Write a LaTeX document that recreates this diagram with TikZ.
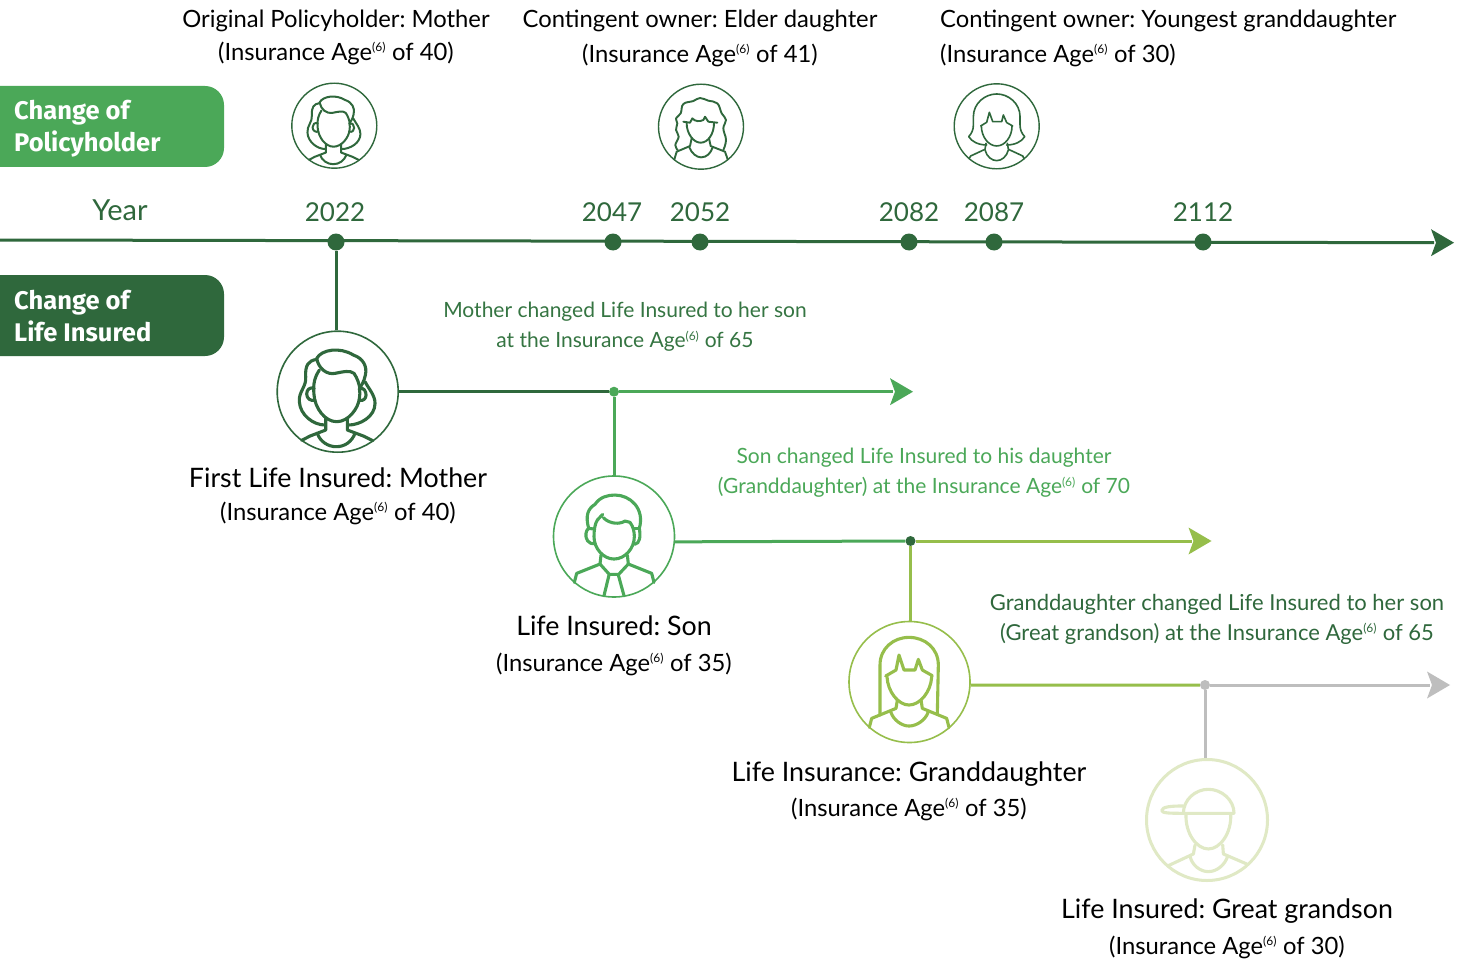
\documentclass[tikz,border=0pt]{standalone}
\usepackage{fontspec}
\setmainfont{Lato}
\newfontfamily\tagfont{Fira Sans}
\usetikzlibrary{calc}
\definecolor{dk}{HTML}{2F683C}
\definecolor{md}{HTML}{4BA858}
\definecolor{lm}{HTML}{96BE4B}
\definecolor{gy}{HTML}{BEBEBE}
\definecolor{pl}{HTML}{E0E9C5}
\newcommand{\sq}{\textsuperscript{\fontsize{12}{12}\selectfont(6)}}
\newcommand{\hd}[1]{{\fontsize{26.8}{30}\selectfont #1}}
\newcommand{\tipat}[2]{\fill[#1] ($(#2)+(-23,-13.5)$) -- (#2) -- ($(#2)+(-23,13.5)$) -- ($(#2)+(-18,0)$) -- cycle;}
\tikzset{
 x=1pt,y=-1pt,
 dot/.style={circle,fill=dk,inner sep=0pt,minimum size=17pt},
 jn/.style={circle,fill=#1,inner sep=0pt,minimum size=10pt},
 ring/.style={circle,draw=#1,line width=1.6pt,minimum size=121pt,inner sep=0pt},
 sring/.style={circle,draw=dk,line width=1.4pt,minimum size=85pt,inner sep=0pt},
 link/.style={line width=3pt},
 blk/.style={font=\frenchspacing\fontsize{23.8}{30}\selectfont,black,align=center,anchor=center,inner sep=0pt},
 yr/.style={font=\fontsize{26}{30}\selectfont,dk,anchor=center},
 note/.style={font=\frenchspacing\fontsize{#1}{30}\selectfont,align=center,anchor=center,inner sep=0pt},
 tag/.style={font=\tagfont\bfseries\fontsize{25.5}{32}\selectfont,white,align=left,anchor=west,inner sep=0pt},
 tagbox/.style={fill=#1,rounded corners=19pt},
}
\newcommand{\iconstart}[7]{\begin{scope}[shift={(#1,#2)}]\begin{scope}[x=#3pt/3,y=-#3pt/3,shift={(-#5,-#6)},draw=#4,line width=#7pt,line cap=round,line join=round]}
\newcommand{\iconend}{\end{scope}\end{scope}}
\newcommand{\mother}[5]{\iconstart{#1}{#2}{#3}{#4}{233}{215}{#5}
 \draw (170,115) .. controls (185,88) and (240,80) .. (280,105) .. controls (310,115) and (322,140) .. (316,165) .. controls (312,185) and (305,195) .. (298,205);
 \draw (170,115) .. controls (175,145) and (200,165) .. (225,160) .. controls (250,155) and (270,150) .. (282,160) .. controls (292,175) and (297,190) .. (300,208);
 \draw (170,118) .. controls (145,122) and (135,135) .. (137,170) .. controls (140,200) and (115,215) .. (118,245) .. controls (120,285) and (160,315) .. (195,315);
 \draw (178,150) .. controls (165,170) and (158,190) .. (162,225) .. controls (165,265) and (195,305) .. (230,305) .. controls (265,305) and (295,265) .. (298,235) .. controls (300,225) and (300,215) .. (298,205);
 \draw (162,205) .. controls (148,200) and (140,210) .. (140,222) .. controls (140,235) and (152,245) .. (165,240);
 \draw (298,207) .. controls (312,200) and (318,215) .. (318,225) .. controls (318,235) and (310,245) .. (297,240);
 \draw (315,185) .. controls (325,205) and (345,225) .. (345,250) .. controls (345,290) and (300,315) .. (265,315);
 \draw (197,295) -- (197,330) -- (150,348) -- (125,361);
 \draw (262,295) -- (262,330) -- (310,348) -- (338,362);
 \draw (172,340) .. controls (180,365) and (205,380) .. (228,380) .. controls (255,380) and (275,365) .. (285,340);
 \iconend}
\newcommand{\curly}[4]{\iconstart{#1}{#2}{#3}{#4}{183}{170}{1.9}
 \draw plot[smooth,tension=.7] coordinates {(113,240) (106,225) (116,200) (108,180) (112,160) (108,145) (122,130) (130,102) (160,93) (180,84) (205,92) (232,100) (245,130) (258,150) (250,175) (258,210) (250,240)};
 \draw (140,160) .. controls (140,190) and (160,218) .. (182,218) .. controls (205,218) and (222,190) .. (222,160);
 \draw (130,155) -- (150,158) -- (157,145) .. controls (165,155) and (180,155) .. (190,150) -- (195,140) -- (205,155) -- (232,158);
 \draw (103,268) -- (110,245) -- (150,228) -- (155,205);
 \draw (263,268) -- (255,245) -- (212,228) -- (207,205);
 \draw (148,232) .. controls (155,250) and (170,262) .. (183,262) .. controls (200,262) and (212,250) .. (218,232);
 \iconend}
\newcommand{\youngest}[4]{\iconstart{#1}{#2}{#3}{#4}{1070}{169}{1.6}
 \draw (1040,225) .. controls (1015,225) and (995,215) .. (986,200) .. controls (995,190) and (1000,180) .. (1000,165) -- (1000,140) .. controls (1000,100) and (1035,72) .. (1070,72) .. controls (1105,72) and (1140,100) .. (1140,140) -- (1140,165) .. controls (1140,180) and (1145,190) .. (1154,200) .. controls (1145,215) and (1125,225) .. (1100,225);
 \draw (1024,168) .. controls (1024,200) and (1045,228) .. (1070,228) .. controls (1095,228) and (1116,200) .. (1116,168);
 \draw (1022,168) -- (1040,157) -- (1048,127) -- (1058,155) -- (1085,155) -- (1090,135) -- (1100,158) -- (1118,168);
 \draw (1038,220) -- (1035,238) -- (992,258) -- (987,266);
 \draw (1102,220) -- (1105,238) -- (1148,258) -- (1152,266);
 \draw (1035,240) .. controls (1040,260) and (1055,272) .. (1070,272) .. controls (1085,272) and (1100,260) .. (1105,240);
 \iconend}
\newcommand{\son}[4]{\iconstart{#1}{#2}{#3}{#4}{222}{212}{3.1}
 \draw (165,235) .. controls (145,240) and (135,220) .. (138,205) .. controls (140,195) and (143,192) .. (146,190) .. controls (135,150) and (145,130) .. (165,118) .. controls (180,95) and (205,90) .. (225,90) .. controls (270,90) and (315,130) .. (298,190);
 \draw (298,190) .. controls (302,215) and (300,235) .. (284,238);
 \draw (146,190) -- (163,192);
 \draw (298,190) -- (282,190);
 \draw (188,148) -- (172,165);
 \draw (172,165) .. controls (165,175) and (162,195) .. (162,215) .. controls (162,250) and (190,282) .. (222,282) .. controls (255,282) and (283,250) .. (283,215) .. controls (283,200) and (280,185) .. (270,172) -- (255,168) .. controls (240,178) and (210,178) .. (190,158);
 \draw (183,270) -- (180,297) -- (110,325) -- (103,352);
 \draw (262,270) -- (265,297) -- (335,325) -- (342,352);
 \draw (180,297) -- (208,328) -- (236,328) -- (265,297);
 \draw (207,330) -- (192,392);
 \draw (235,330) -- (252,392);
 \iconend}
\newcommand{\granddau}[4]{\iconstart{#1}{#2}{#3}{#4}{222}{215}{3.1}
 \draw (135,315) -- (135,165) .. controls (135,115) and (175,82) .. (222,82) .. controls (270,82) and (310,115) .. (310,165) -- (307,310);
 \draw (156,200) .. controls (158,245) and (190,285) .. (222,285) .. controls (255,285) and (288,245) .. (290,200);
 \draw (152,198) -- (183,180) -- (192,135) -- (207,180) -- (240,180) -- (250,148) -- (262,180) -- (292,197);
 \draw (187,270) -- (183,295) -- (110,325) -- (103,352);
 \draw (258,270) -- (262,295) -- (335,325) -- (342,352);
 \draw (167,305) .. controls (175,330) and (200,348) .. (222,348) .. controls (245,348) and (272,330) .. (280,305);
 \iconend}
\newcommand{\grandson}[4]{\iconstart{#1}{#2}{#3}{#4}{230}{208}{3.1}
 \draw (312,190) .. controls (312,150) and (275,118) .. (235,118) .. controls (195,118) and (160,150) .. (160,190) -- (312,190);
 \draw (160,168) .. controls (125,168) and (95,170) .. (95,182) .. controls (95,190) and (125,190) .. (160,190);
 \draw (168,192) .. controls (165,250) and (200,297) .. (235,297) .. controls (270,297) and (305,250) .. (302,192);
 \draw (195,285) -- (190,312) -- (115,347);
 \draw (278,285) -- (280,312) -- (350,342);
 \draw (180,318) .. controls (185,345) and (210,365) .. (235,365) .. controls (260,365) and (285,345) .. (293,318);
 \iconend}
\begin{document}
\begin{tikzpicture}
\useasboundingbox (0,0) rectangle (1461,960);
\fill[white] (0,0) rectangle (1461,960);
% tags (square on the left, beyond the page edge)
\node[tagbox=md,minimum width=274pt,minimum height=81pt,inner sep=0pt] (box1) at (87,126.5) {};
\node[tagbox=dk,minimum width=274pt,minimum height=81pt,inner sep=0pt] (box2) at (87,315.5) {};
\node[tag] (tag1) at (14,129) {Change of\\Policyholder};
\node[tag] (tag2) at (14,316) {Change of\\Life Insured};
% axis
\coordinate (ax0) at (0,240);
\coordinate (ax1) at (1454,242.7);
\node[dot] (y22) at (336,242) {};
\node[dot] (y47) at (613,242) {};
\node[dot] (y52) at (700,242) {};
\node[dot] (y82) at (909,242) {};
\node[dot] (y87) at (994,242) {};
\node[dot] (y12) at (1203,242) {};
\draw[dk,link] (ax0) -- ($(ax1)+(-20,0)$);
\tipat{dk}{ax1}
\node[yr,font=\fontsize{29}{30}\selectfont] (yl) at (120,210) {Year};
\foreach \n/\l/\xx in {a/2022/335,b/2047/612,c/2052/700,d/2082/909,e/2087/994,f/2112/1203}{\node[yr] (t\n) at (\xx,212) {\l};}
% top labels
\node[blk] (p1) at (336,37) {Original Policyholder: Mother\\[3pt](Insurance Age\sq{} of 40)};
\node[blk] (p2) at (700,38) {Contingent owner: Elder daughter\\[5pt](Insurance Age\sq{} of 41)};
\node[blk,align=left,anchor=west] (p3) at (940,38) {Contingent owner: Youngest granddaughter\\[5pt](Insurance Age\sq{} of 30)};
% small rings
\node[sring] (s1) at (334.3,125.7) {};
\node[sring] (s2) at (701,126.7) {};
\node[sring] (s3) at (996.7,126.3) {};
\mother{334.3}{125.7}{.7}{dk}{2}
\curly{701}{126.7}{1}{dk}
\youngest{996.7}{126.3}{1}{dk}
% big rings
\node[ring=dk] (r1) at (337.7,391.7) {};
\node[ring=md] (r2) at (614,536.5) {};
\node[ring=lm] (r3) at (909.5,682) {};
\node[ring=pl,line width=3pt] (r4) at (1207,820) {};
\mother{337.7}{391.7}{1}{dk}{3.1}
\son{614}{535.7}{1}{md}
\granddau{909}{681.7}{1}{lm}
\grandson{1206.7}{819.3}{1}{pl}
% connectors
\node[jn=md] (j1) at (614,391.7) {};
\node[jn=dk] (j2) at (910.5,541) {};
\node[jn=gy] (j3) at (1205,685) {};
\coordinate (a1) at (913,391.7);
\coordinate (a2) at (1211.5,541);
\coordinate (a3) at (1450,685);
\draw[dk,link] (y22) -- (y22 |- r1.north);
\draw[dk,link] (r1.east) -- (j1);
\draw[md,link] (j1) -- ($(a1)+(-20,0)$);
\draw[md,link] (j1) -- (j1 |- r2.north);
\tipat{md}{a1}
\draw[md,link] (r2.-5) -- (j2);
\draw[lm,link] (j2) -- ($(a2)+(-20,0)$);
\draw[lm,link] (j2) -- (j2 |- r3.north);
\tipat{lm}{a2}
\draw[lm,link] (r3.-3) -- (j3);
\draw[gy,link] (j3) -- ($(a3)+(-20,0)$);
\draw[gy,link] (j3) -- (j3 |- r4.north);
\tipat{gy}{a3}
% notes
\node[note=21,text=dk!80!md] (n1) at (625,327) {Mother changed Life Insured to her son\\at the Insurance Age\sq{} of 65};
\node[note=21,text=md] (n2) at (924,473) {Son changed Life Insured to his daughter\\(Granddaughter) at the Insurance Age\sq{} of 70};
\node[note=22,text=dk] (n3) at (1217,619) {Granddaughter changed Life Insured to her son\\(Great grandson) at the Insurance Age\sq{} of 65};
% life insured labels
\node[blk] (l1) at (338,496) {\hd{First Life Insured: Mother}\\[3pt](Insurance Age\sq{} of 40)};
\node[blk] (l2) at (614,645.5) {\hd{Life Insured: Son}\\[6pt](Insurance Age\sq{} of 35)};
\node[blk] (l3) at (909,791) {\hd{Life Insurance: Granddaughter}\\[5pt](Insurance Age\sq{} of 35)};
\node[blk] (l4) at (1227,928.5) {\hd{Life Insured: Great grandson}\\[6pt](Insurance Age\sq{} of 30)};
\end{tikzpicture}
\end{document}
